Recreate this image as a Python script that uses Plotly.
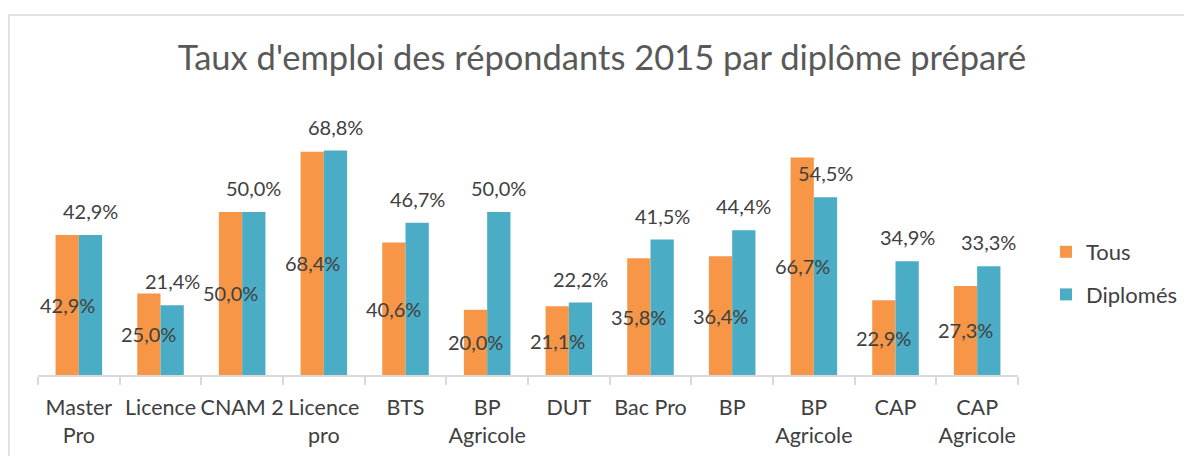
import plotly.graph_objects as go

categories = ["Master<br>Pro", "Licence", "CNAM 2", "Licence<br>pro", "BTS", "BP<br>Agricole",
              "DUT", "Bac Pro", "BP", "BP<br>Agricole", "CAP", "CAP<br>Agricole"]
tous = [42.9, 25.0, 50.0, 68.4, 40.6, 20.0, 21.1, 35.8, 36.4, 66.7, 22.9, 27.3]
diplomes = [42.9, 21.4, 50.0, 68.8, 46.7, 50.0, 22.2, 41.5, 44.4, 54.5, 34.9, 33.3]

W, H = 1184, 456
ML, MR, MT, MB = 38, 166, 114, 81
FONT = "Lato"
TXT = "#404040"
ORANGE = "#F79646"
TEAL = "#4BACC6"
BW = 0.285

def fmt(v):
    return f"{v:.1f}".replace(".", ",") + "%"

x = list(range(len(categories)))

fig = go.Figure()
fig.add_trace(go.Bar(name="Tous", x=x, y=tous, width=BW, offset=-BW, legendgroup="a",
                     marker=dict(color=ORANGE, line=dict(width=0)), hoverinfo="skip"))
fig.add_trace(go.Bar(name="Diplomés", x=x, y=diplomes, width=BW, offset=0, legendgroup="b",
                     marker=dict(color=TEAL, line=dict(width=0)), hoverinfo="skip"))

LBL = dict(family=FONT, size=20, color=TXT)
ann = []
for i, (t, d) in enumerate(zip(tous, diplomes)):
    ann.append(dict(x=i - BW / 2, y=t / 2, xref="x", yref="y", text=fmt(t), showarrow=False,
                    font=LBL, xanchor="center", yanchor="middle"))
    ann.append(dict(x=i + BW / 2, y=d, xref="x", yref="y", text=fmt(d), showarrow=False,
                    font=LBL, xanchor="center", yanchor="bottom", yshift=10))

pw = W - ML - MR
ph = H - MT - MB
def px2paper_x(p):
    return (p - ML) / pw
def px2paper_y(p):
    return (H - MB - p) / ph

fig.update_layout(
    width=W, height=H,
    margin=dict(l=ML, r=MR, t=MT, b=MB, autoexpand=False),
    paper_bgcolor="white", plot_bgcolor="white",
    title=dict(text="Taux d'emploi des répondants 2015 par diplôme préparé",
               font=dict(family=FONT, size=34.5, color="#595959"),
               x=(602 / W), xanchor="center", y=1 - 58 / H, yanchor="middle"),
    barmode="overlay",
    showlegend=True,
    legend=dict(x=px2paper_x(1046), y=px2paper_y(231), xanchor="left", yanchor="top",
                font=dict(family=FONT, size=22, color=TXT), tracegroupgap=11,
                itemwidth=30, bgcolor="rgba(0,0,0,0)"),
    xaxis=dict(range=[-0.5, len(categories) - 0.5], tickmode="array", tickvals=x,
               ticktext=categories, ticks="", showgrid=False, zeroline=False,
               showline=True, linecolor="#d9d9d9", linewidth=1.5,
               tickfont=dict(family=FONT, size=21.5, color=TXT),
               tickangle=0, automargin=False,
               ticklabelstandoff=12,
               minor=dict(tickmode="array", tickvals=[i - 0.5 for i in range(len(categories) + 1)],
                          ticks="outside", ticklen=8, tickcolor="#d9d9d9", tickwidth=1.5,
                          showgrid=False),
               fixedrange=True),
    yaxis=dict(range=[0, 80], visible=False, showgrid=False, zeroline=False, fixedrange=True,
               automargin=False),
    annotations=ann,
    shapes=[dict(type="rect", xref="paper", yref="paper",
                 x0=px2paper_x(9), x1=px2paper_x(1200), y0=px2paper_y(470), y1=px2paper_y(15),
                 line=dict(color="#d9d9d9", width=1.5), layer="below")],
)

fig.write_html("out.html", post_script="document.body.style.margin='0px';",
               config={"displayModeBar": False})
